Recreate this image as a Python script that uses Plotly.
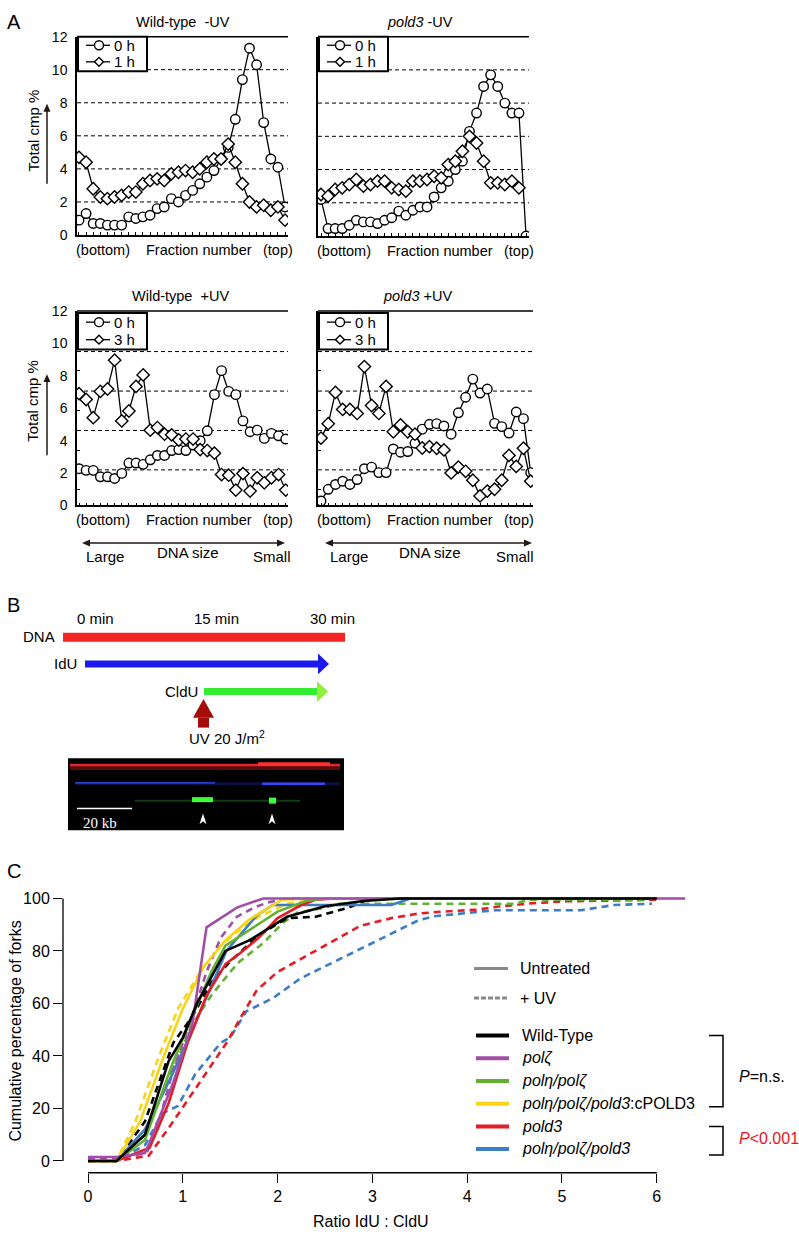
import plotly.graph_objects as go

W, H = 799, 1240
def PX(x): return x / W
def PY(y): return 1 - y / H

FONT = "Liberation Sans, Arial, sans-serif"

# ---------------- Panel A data ----------------
fractions = list(range(1, 31))
wt_minus_0h = [0.9,1.3,0.7,0.7,0.6,0.6,0.6,1.1,1.0,1.1,1.2,1.6,1.7,2.2,2.0,2.4,2.7,3.1,3.5,3.9,4.6,5.3,7.0,9.4,11.3,10.3,6.8,4.6,4.1,1.7]
wt_minus_1h = [4.7,4.4,2.8,2.3,2.2,2.3,2.4,2.6,2.6,3.1,3.3,3.4,3.3,3.7,3.8,3.9,3.8,4.0,4.4,4.6,4.6,5.5,4.4,3.1,2.0,1.7,1.8,1.5,1.7,0.9]
pold3_minus_0h = [2.2,0.45,0.45,0.45,0.65,0.95,0.85,0.85,0.75,0.95,1.1,1.5,1.25,1.55,1.75,1.75,2.35,2.9,3.3,4.0,4.5,6.3,7.4,9.0,9.7,9.0,8.0,7.4,7.4,0.0]
pold3_minus_1h = [2.5,2.4,2.8,2.9,3.1,3.4,3.0,3.1,3.3,3.3,2.9,2.8,2.7,3.3,3.3,3.4,3.6,3.5,4.3,4.5,5.1,6.0,5.6,4.5,3.2,3.2,3.1,3.3,2.9,None]
wt_plus_0h = [2.27,2.17,2.17,1.77,1.77,1.67,1.98,2.62,2.62,2.54,2.82,3.09,3.09,3.39,3.45,3.39,3.73,4.0,4.61,6.84,8.32,7.04,6.84,5.22,4.55,4.65,4.14,4.45,4.3,4.1]
wt_plus_3h = [6.9,6.54,5.42,7.04,7.19,8.97,5.22,5.83,7.35,8.06,4.65,4.81,4.4,4.36,4.04,4.1,4.1,3.45,3.39,3.23,1.91,1.87,0.95,1.97,0.89,1.71,1.4,1.71,1.91,0.95]
pold3_plus_0h = [0.28,1.0,1.3,1.5,1.3,1.6,2.27,2.37,2.03,2.03,3.49,3.29,3.33,3.84,4.71,5.01,5.05,4.91,4.4,5.72,6.68,7.8,6.94,7.19,5.07,4.87,4.47,5.77,5.36,2.03]
pold3_plus_3h = [4.16,5.05,6.98,5.93,5.93,5.68,8.57,6.17,5.68,7.35,4.55,4.97,4.55,4.4,3.55,3.63,3.53,3.43,2.01,2.37,2.11,1.56,0.59,0.89,1.0,1.56,3.09,2.41,3.53,1.5]

a_yticks = [0, 2, 4, 6, 8, 10, 12]
minus_grid = [2, 4, 6, 8, 10]
plus_grid = [2.2, 4.63, 7.06, 9.5]
plus_minor = [1.0, 3.4, 5.85, 8.3, 10.7]

# ---------------- Panel C data ----------------
c_xticks = [0, 1, 2, 3, 4, 5, 6]
c_yticks = [0, 20, 40, 60, 80, 100]

wt_u_x = [0, 0.3, 0.6, 0.85, 1.0, 1.15, 1.45, 1.7, 2.1, 2.5, 2.9, 3.3, 6.0]
wt_u_y = [0, 0, 10, 38, 47, 60, 80, 84, 93, 97, 99, 100, 100]
wt_uv_x = [0, 0.3, 0.6, 0.9, 1.1, 1.3, 1.5, 1.8, 2.1, 2.4, 2.75, 2.95, 3.1, 6.0]
wt_uv_y = [0, 0, 15, 45, 55, 68, 76, 86, 92.5, 93, 96.5, 99.6, 100, 100]
polz_u_x = [0, 0.3, 0.6, 0.65, 0.9, 1.1, 1.25, 1.57, 1.85, 6.3]
polz_u_y = [1.5, 1.5, 3, 7, 30, 52, 89, 96.5, 100, 100]
polz_uv_x = [0, 0.3, 0.62, 0.75, 0.9, 1.08, 1.25, 1.4, 1.57, 1.75, 1.9, 2.1, 6.0]
polz_uv_y = [1, 1, 3, 15, 35, 53, 72, 85, 93, 96.5, 98.5, 100, 100]
green_u_x = [0, 0.3, 0.6, 0.9, 1.1, 1.3, 1.45, 1.7, 2.0, 2.3, 2.5, 6.0]
green_u_y = [0, 0, 8, 38, 55, 72, 82, 88, 95, 99, 100, 100]
green_uv_x = [0, 0.3, 0.6, 0.9, 1.1, 1.3, 1.5, 1.6, 1.85, 2.05, 2.2, 2.5, 2.65, 4.5, 4.65, 5.93]
green_uv_y = [0, 0, 10, 35, 52, 63, 72, 76, 83, 90.5, 94.5, 96.5, 98, 98, 99.5, 99.5]
yellow_u_x = [0, 0.3, 0.55, 0.8, 1.0, 1.22, 1.45, 1.7, 2.05, 2.3, 6.0]
yellow_u_y = [0, 0, 15, 40, 58, 74, 84, 92, 99.5, 100, 100]
yellow_uv_x = [0, 0.3, 0.5, 0.75, 0.95, 1.2, 1.4, 1.6, 1.8, 2.1, 2.5, 6.0]
yellow_uv_y = [0, 0, 15, 40, 58, 73, 82, 88, 93, 98, 100, 100]
red_u_x = [0, 0.3, 0.65, 0.85, 1.05, 1.25, 1.45, 1.6, 1.8, 2.0, 2.25, 2.4, 2.6, 6.0]
red_u_y = [0, 0, 5, 22, 45, 63, 75, 79, 85, 92.5, 97.5, 99.5, 100, 100]
red_uv_x = [0, 0.3, 0.64, 0.86, 1.18, 1.48, 1.6, 1.78, 2.0, 2.3, 2.6, 2.87, 3.2, 3.5, 3.75, 4.1, 4.35, 4.7, 5.05, 6.0]
red_uv_y = [0, 0, 2, 13, 30, 46, 54, 65, 72, 78, 84, 89.5, 92.5, 94.3, 95, 95.7, 97, 98.2, 98.9, 99.5]
blue_u_x = [0, 0.3, 0.6, 0.85, 1.08, 1.25, 1.46, 1.78, 1.95, 3.2, 3.4, 6.0]
blue_u_y = [0, 0, 12, 30, 48, 62, 80, 93.5, 97.5, 97.5, 100, 100]
blue_uv_x = [0, 0.3, 0.6, 0.78, 0.95, 1.13, 1.4, 1.5, 1.67, 1.95, 2.24, 2.59, 2.94, 3.26, 3.47, 3.64, 4.3, 5.2, 5.55, 5.95]
blue_uv_y = [0, 0, 6, 18, 21, 33, 45, 47, 57, 62, 69.5, 75.7, 82, 87.6, 91.4, 93.2, 95.5, 95.5, 97.5, 98]

C_BLACK = "#000000"
C_PURPLE = "#a04ea6"
C_GREEN = "#63b132"
C_YELLOW = "#f7d417"
C_RED = "#e21d25"
C_BLUE = "#3d7dc4"

fig = go.Figure()
shapes = []
annots = []

def text(x, y, s, size=14, xanchor="center", color="black", angle=0, family=FONT):
    annots.append(dict(x=PX(x), y=PY(y), xref="paper", yref="paper", text=s, showarrow=False,
                       xanchor=xanchor, yanchor="middle", textangle=angle, borderpad=0,
                       font=dict(family=family, size=size, color=color)))

def pline(x0, y0, x1, y1, color="black", width=1.5, dash=None, layer="above"):
    d = dict(type="line", xref="paper", yref="paper", x0=PX(x0), y0=PY(y0), x1=PX(x1), y1=PY(y1),
             line=dict(color=color, width=width), layer=layer)
    if dash:
        d["line"]["dash"] = dash
    shapes.append(d)

def ppath(pts, fill, color=None, width=0):
    p = "M " + " L ".join(f"{PX(x):.5f},{PY(y):.5f}" for x, y in pts) + " Z"
    shapes.append(dict(type="path", xref="paper", yref="paper", path=p, fillcolor=fill,
                       line=dict(color=color or fill, width=width), layer="above"))

def prect(x0, y0, x1, y1, fill, color=None, width=0):
    shapes.append(dict(type="rect", xref="paper", yref="paper", x0=PX(x0), y0=PY(y1), x1=PX(x1), y1=PY(y0),
                       fillcolor=fill, line=dict(color=color or fill, width=width), layer="above"))

# ---------------- Panel A ----------------
panels = [
    ("x", "y", (77, 288), (29, 230), [0.72, 30.42], (wt_minus_0h, wt_minus_1h), minus_grid, False, "1 h"),
    ("x2", "y2", (318, 529), (29, 231), [0.576, 30.42], (pold3_minus_0h, pold3_minus_1h), minus_grid, False, "1 h"),
    ("x3", "y3", (77, 288), (307, 504), [0.72, 30.32], (wt_plus_0h, wt_plus_3h), plus_grid, True, "3 h"),
    ("x4", "y4", (318, 533), (307, 504), [0.585, 30.32], (pold3_plus_0h, pold3_plus_3h), plus_grid, True, "3 h"),
]

layout_axes = {}
for i, (xa, ya, xp, yp, xr, series, grid, plus, lab2) in enumerate(panels):
    xkey = "xaxis" + ("" if xa == "x" else xa[1:])
    ykey = "yaxis" + ("" if ya == "y" else ya[1:])
    layout_axes[xkey] = dict(domain=[PX(xp[0]), PX(xp[1])], range=xr, anchor=ya,
                             showline=True, linecolor="black", linewidth=1.5,
                             ticks="inside", ticklen=3, tickwidth=1, tickcolor="black",
                             tick0=1, dtick=1, showticklabels=False, showgrid=False, zeroline=False)
    yax = dict(domain=[PY(yp[1]), PY(yp[0])], range=[0, 12], anchor=xa,
               showline=True, linecolor="black", linewidth=1.5, showgrid=False, zeroline=False,
               tickvals=a_yticks, ticks="", showticklabels=(i % 2 == 0),
               ticklabelstandoff=5, tickfont=dict(family=FONT, size=14, color="black"))
    if plus:
        yax["minor"] = dict(tickvals=plus_minor, ticks="inside", ticklen=3, tickcolor="black", tickwidth=1)
    layout_axes[ykey] = yax
    for g in grid:
        shapes.append(dict(type="line", xref=xa + " domain", yref=ya, x0=0, x1=1, y0=g, y1=g,
                           line=dict(color="black", width=1, dash="4px,3px"), layer="below"))
    shapes.append(dict(type="line", xref=xa + " domain", yref=ya + " domain", x0=0, x1=1, y0=1, y1=1,
                       line=dict(color="black", width=1.5), layer="above"))
    s0, s1 = series
    fig.add_trace(go.Scatter(x=fractions, y=s0, mode="lines+markers", xaxis=xa, yaxis=ya,
                             line=dict(color="black", width=1.3),
                             marker=dict(symbol="circle", size=9.5, color="white", line=dict(color="black", width=1.4)),
                             showlegend=False, hoverinfo="skip"))
    fig.add_trace(go.Scatter(x=fractions, y=s1, mode="lines+markers", xaxis=xa, yaxis=ya,
                             line=dict(color="black", width=1.3),
                             marker=dict(symbol="diamond", size=9.5, color="white", line=dict(color="black", width=1.4)),
                             showlegend=False, hoverinfo="skip"))
    bx0 = xp[0] + 1
    by0 = yp[0] + (2 if plus else 0)
    bw, bh = 69, (37 if plus else 35)
    prect(bx0, by0, bx0 + bw, by0 + bh, "white", "black", 2)
    for j, (sym, lab) in enumerate([("circle", "0 h"), ("diamond", lab2)]):
        ry = by0 + bh * (0.25 + 0.48 * j)
        pline(bx0 + 8, ry, bx0 + 32, ry, width=1.3)
        cx = bx0 + 21
        r = 4.5
        if sym == "circle":
            shapes.append(dict(type="circle", xref="paper", yref="paper", x0=PX(cx - r), x1=PX(cx + r),
                               y0=PY(ry + r), y1=PY(ry - r), fillcolor="white",
                               line=dict(color="black", width=1.4), layer="above"))
        else:
            ppath([(cx, ry - r), (cx + r, ry), (cx, ry + r), (cx - r, ry)], "white", "black", 1.4)
        text(bx0 + 35, ry, lab, 15, xanchor="left")
    yb = yp[1] + 15
    text(xp[0] + 26, yb, "(bottom)", 14.5)
    text(xp[0] + 122, yb, "Fraction number", 14.5)
    text(xp[0] + 201, yb, "(top)", 14.5)

fig.update_layout(**layout_axes)

text(183, 14, "Wild-type  -UV", 14.5)
text(420, 14, "<i>pold3</i> -UV", 14.5)
text(180, 292, "Wild-type  +UV", 14.5)
text(417, 292, "<i>pold3</i> +UV", 14.5)
text(6, 14, "A", 20, xanchor="left")
text(6, 605, "B", 20, xanchor="left")
text(6, 874, "C", 20, xanchor="left")

ARROWC = "#231815"
for (ty, a0, a1) in [(124, 178, 97), (398, 453, 371)]:
    text(33, ty, "Total cmp %", 15, angle=-90)
    pline(47, a0, 47, a1 + 6, ARROWC, 1.5)
    ppath([(43.5, a1 + 8), (47, a1), (50.5, a1 + 8)], ARROWC)

for (x0, x1, lg, ds, sm) in [(82, 285, 105, 188, 272), (325, 532, 349, 430, 515)]:
    pline(x0 + 6, 542, x1 - 6, 542, ARROWC, 1.5)
    ppath([(x0 + 8, 538.5), (x0, 542), (x0 + 8, 545.5)], ARROWC)
    ppath([(x1 - 8, 538.5), (x1, 542), (x1 - 8, 545.5)], ARROWC)
    text(lg, 556, "Large", 15)
    text(ds, 552, "DNA size", 15)
    text(sm, 556, "Small", 15)

# ---------------- Panel B ----------------
text(76, 618, "0 min", 15, xanchor="left")
text(193, 618, "15 min", 15, xanchor="left")
text(309, 618, "30 min", 15, xanchor="left")
text(56, 637, "DNA", 15, xanchor="right")
text(78, 664, "IdU", 15, xanchor="right")
text(199, 692, "CldU", 15, xanchor="right")
text(188, 739, "UV 20 J/m<sup>2</sup>", 15, xanchor="left")

prect(63, 633, 345, 642, "#f42424")
prect(85, 661, 319, 668, "#1a1aee")
ppath([(318, 654), (329, 664.5), (318, 675)], "#1a1aee")
prect(204, 689, 318, 696, "#34ec34")
ppath([(317, 682), (328, 692.5), (317, 703)], "#8cf03c")
prect(198, 719, 209, 729, "#a50c0c")
ppath([(193, 719), (203.5, 700), (214, 719)], "#a50c0c")

# microscopy image (schematic)
prect(68, 760, 344, 833, "black")
pline(70, 770, 340, 770, "#5a0c0c", 4)
pline(70, 767, 340, 767, "#e0262a", 2.5)
pline(258, 766, 330, 766, "#ff3030", 3.5)
pline(75, 786, 340, 786, "#0c1040", 3)
pline(75, 785, 215, 785, "#2a3ad0", 1.8)
pline(262, 786, 325, 786, "#3646f0", 2.5)
pline(135, 803, 300, 803, "#0f3f0f", 2)
pline(192, 802, 213, 802, "#3cff3c", 5)
pline(269, 803, 276, 803, "#3cff3c", 6)
pline(77, 811, 132, 811, "white", 1.5)
text(100, 826, "20 kb", 15, color="white", family="Liberation Serif, Times New Roman, serif")
for ax_ in (203, 272):
    ppath([(ax_, 816), (ax_ + 3.5, 827), (ax_, 824), (ax_ - 3.5, 827)], "white")

# ---------------- Panel C ----------------
c_series = [
    (blue_uv_x, blue_uv_y, C_BLUE, True),
    (red_uv_x, red_uv_y, C_RED, True),
    (green_uv_x, green_uv_y, C_GREEN, True),
    (yellow_uv_x, yellow_uv_y, C_YELLOW, True),
    (polz_uv_x, polz_uv_y, C_PURPLE, True),
    (wt_uv_x, wt_uv_y, C_BLACK, True),
    (blue_u_x, blue_u_y, C_BLUE, False),
    (red_u_x, red_u_y, C_RED, False),
    (green_u_x, green_u_y, C_GREEN, False),
    (yellow_u_x, yellow_u_y, C_YELLOW, False),
    (polz_u_x, polz_u_y, C_PURPLE, False),
    (wt_u_x, wt_u_y, C_BLACK, False),
]
for xs, ys, col, dashed in c_series:
    ln = dict(color=col, width=2.6)
    if dashed:
        ln["dash"] = "7px,5px"
    fig.add_trace(go.Scatter(x=xs, y=ys, mode="lines", line=ln, xaxis="x5", yaxis="y5",
                             showlegend=False, hoverinfo="skip"))

fig.update_layout(
    xaxis5=dict(domain=[PX(63), PX(700)], range=[-0.264, 6.456], anchor="y5", showline=False,
                showgrid=False, zeroline=False, tickvals=c_xticks, ticks="outside", ticklen=9,
                tickwidth=1.3, tickcolor="black", tickfont=dict(family=FONT, size=16, color="black")),
    yaxis5=dict(domain=[PY(1180), PY(880)], range=[-4.51, 108.3], anchor="x5", showline=False,
                showgrid=False, zeroline=False, tickvals=c_yticks, ticks="outside", ticklen=9,
                tickwidth=1.3, tickcolor="black", tickfont=dict(family=FONT, size=16, color="black")),
)
shapes.append(dict(type="line", xref="x5", yref="y5 domain", x0=0, x1=6, y0=0, y1=0,
                   line=dict(color="black", width=1.3)))
shapes.append(dict(type="line", xref="x5 domain", yref="y5", x0=0, x1=0, y0=0, y1=100,
                   line=dict(color="black", width=1.3)))
text(16, 1037, "Cumulative percentage of forks", 16, angle=-90)
text(371, 1229, "Ratio IdU : CldU", 16)

pline(474, 973, 508, 973, "#8a8a8a", 3)
text(519, 973, "Untreated", 16, xanchor="left")
pline(474, 1003, 508, 1003, "#8a8a8a", 3, dash="5px,2px")
text(519, 1003, "+ UV", 16, xanchor="left")
legend_rows = [
    (1041, C_BLACK, "Wild-Type"),
    (1064, C_PURPLE, "<i>pol\u03b6</i>"),
    (1087, C_GREEN, "<i>pol\u03b7/pol\u03b6</i>"),
    (1110, C_YELLOW, "<i>pol\u03b7/pol\u03b6/pold3</i>:cPOLD3"),
    (1133, C_RED, "<i>pold3</i>"),
    (1156, C_BLUE, "<i>pol\u03b7/pol\u03b6/pold3</i>"),
]
for ry, col, lab in legend_rows:
    pline(476, ry, 509, ry, col, 4)
    text(521, ry, lab, 16, xanchor="left")

shapes.append(dict(type="path", xref="paper", yref="paper",
                   path=f"M {PX(709)},{PY(1041)} L {PX(723)},{PY(1041)} L {PX(723)},{PY(1113)} L {PX(709)},{PY(1113)}",
                   line=dict(color="black", width=1.5)))
shapes.append(dict(type="path", xref="paper", yref="paper",
                   path=f"M {PX(709)},{PY(1133)} L {PX(723)},{PY(1133)} L {PX(723)},{PY(1162)} L {PX(709)},{PY(1162)}",
                   line=dict(color="black", width=1.5)))
text(738, 1082, "<i>P</i>=n.s.", 16, xanchor="left")
text(738, 1145, "<i>P</i>&lt;0.001", 16, xanchor="left", color="#e8141c")

fig.update_layout(width=W, height=H, margin=dict(l=0, r=0, t=0, b=0),
                  paper_bgcolor="white", plot_bgcolor="white",
                  shapes=shapes, annotations=annots, showlegend=False,
                  font=dict(family=FONT, color="black"))

fig.write_html("out.html", config={"displayModeBar": False},
               post_script="document.body.style.margin='0px';document.body.style.overflow='hidden';")
